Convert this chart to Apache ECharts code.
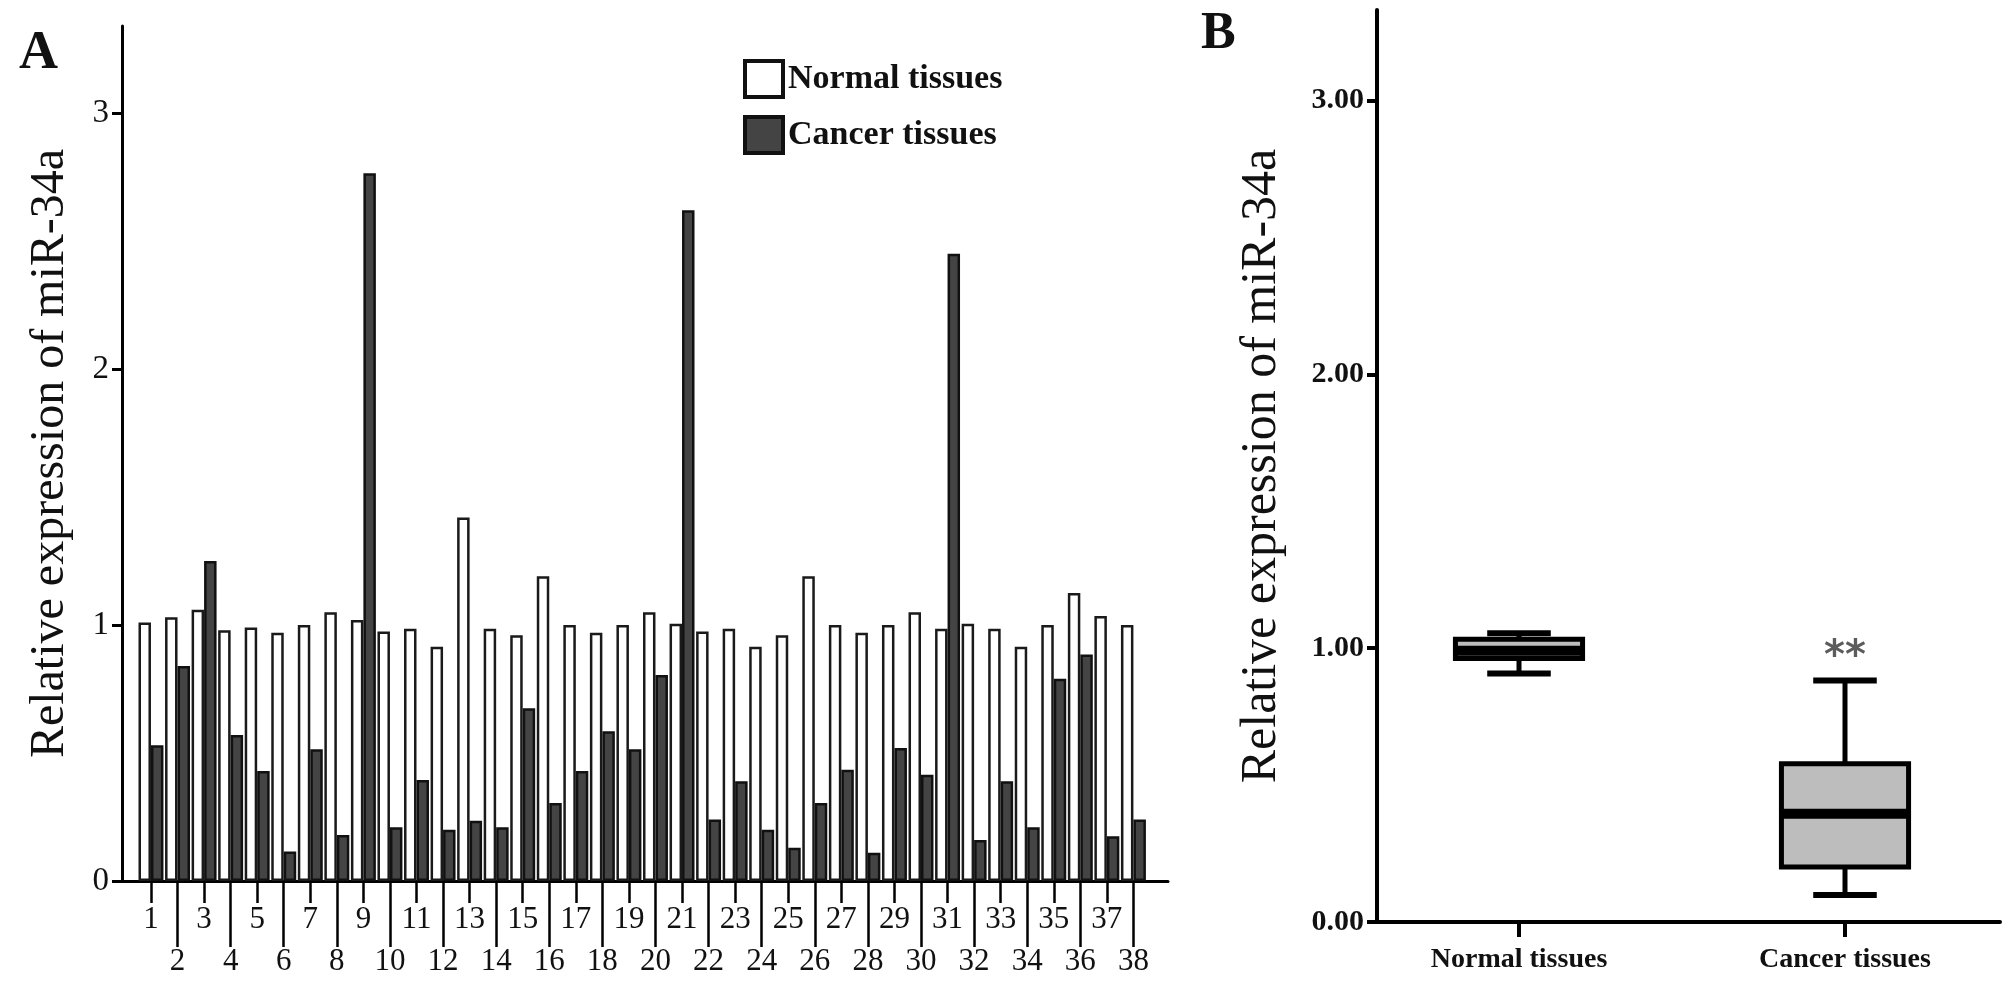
<!DOCTYPE html>
<html>
<head>
<meta charset="utf-8">
<script src="https://cdn.jsdelivr.net/npm/echarts@6/dist/echarts.min.js"></script>
<style>
html,body{margin:0;padding:0;background:#fff;}
#chart{width:2008px;height:991px;}
</style>
</head>
<body>
<div id="chart"></div>
<script>
// ---------- data ----------
const categoriesA = ['1','2','3','4','5','6','7','8','9','10','11','12','13','14','15','16','17','18','19','20',
  '21','22','23','24','25','26','27','28','29','30','31','32','33','34','35','36','37','38'];
const normalValues = [1.01,1.03,1.06,0.98,0.99,0.97,1.00,1.05,1.02,0.975,0.985,0.915,1.42,0.985,0.96,1.19,1.00,0.97,1.00,1.05,
  1.005,0.975,0.985,0.915,0.96,1.19,1.00,0.97,1.00,1.05,0.985,1.005,0.985,0.915,1.00,1.125,1.035,1.00];
const cancerValues = [0.53,0.84,1.25,0.57,0.43,0.115,0.515,0.18,2.765,0.21,0.395,0.20,0.235,0.21,0.675,0.305,0.43,0.585,0.515,0.805,
  2.62,0.24,0.39,0.20,0.13,0.305,0.435,0.11,0.52,0.415,2.45,0.16,0.39,0.21,0.79,0.885,0.175,0.24];
const yTicksA = [0,1,2,3];
const seriesNames = ['Normal tissues','Cancer tissues'];

const groupsB = ['Normal tissues','Cancer tissues'];
// [min, Q1, median, Q3, max]
const normalBox = [0.907,0.962,0.99,1.032,1.054];
const cancerBox = [0.099,0.201,0.395,0.578,0.882];
const yTicksB = [0,1,2,3];
const significance = [['Cancer tissues',0.965,'**']];

const yTitle = 'Relative expression of miR-34a';
// ---------------------------

const SERIF = "'Liberation Serif','Times New Roman','DejaVu Serif',serif";
const chart = echarts.init(document.getElementById('chart'), null, {renderer:'canvas'});

function renderBox(params, api){
  const i = api.value(0);
  const pMin = api.coord([i, api.value(1)]);
  const pQ1 = api.coord([i, api.value(2)]);
  const pMed = api.coord([i, api.value(3)]);
  const pQ3 = api.coord([i, api.value(4)]);
  const pMax = api.coord([i, api.value(5)]);
  const band = api.size([1,0])[0];
  const bw = band*0.39, cw = bw*0.5, cx = pMed[0];
  const ls = {stroke:'#000', lineWidth:5};
  return {type:'group', children:[
    {type:'line', shape:{x1:cx,y1:pQ3[1],x2:cx,y2:pMax[1]}, style:ls},
    {type:'line', shape:{x1:cx,y1:pQ1[1],x2:cx,y2:pMin[1]}, style:ls},
    {type:'line', shape:{x1:cx-cw/2,y1:pMax[1],x2:cx+cw/2,y2:pMax[1]}, style:{stroke:'#000',lineWidth:6}},
    {type:'line', shape:{x1:cx-cw/2,y1:pMin[1],x2:cx+cw/2,y2:pMin[1]}, style:{stroke:'#000',lineWidth:6}},
    {type:'rect', shape:{x:cx-bw/2,y:pQ3[1],width:bw,height:pQ1[1]-pQ3[1]}, style:{fill:'#bdbdbd',stroke:'#000',lineWidth:5}},
    {type:'line', shape:{x1:cx-bw/2,y1:pMed[1],x2:cx+bw/2,y2:pMed[1]}, style:{stroke:'#000',lineWidth:10}}
  ]};
}

const option = {
  animation:false,
  backgroundColor:'#fff',
  title:[
    {text:'A', left:14, top:22, textStyle:{fontFamily:SERIF, fontWeight:'bold', fontSize:54, color:'#111'}},
    {text:'B', left:1196, top:4, textStyle:{fontFamily:SERIF, fontWeight:'bold', fontSize:52, color:'#111'}}
  ],
  legend:{
    data:seriesNames, orient:'vertical', left:738, top:54,
    itemWidth:38, itemHeight:36, itemGap:16, icon:'rect',
    textStyle:{fontFamily:SERIF, fontWeight:'bold', fontSize:34, color:'#111', padding:[0,0,0,0]},
    itemStyle:{borderColor:'#111', borderWidth:4}
  },
  grid:[
    {left:122, top:26, width:1046, height:855},
    {left:137.7, top:26, width:1009, height:855},
    {left:1377, top:10, width:623, height:912},
    {left:1356, top:10, width:656, height:912}
  ],
  xAxis:[
    {gridIndex:0, type:'value', min:0, max:1, axisLine:{show:true, lineStyle:{color:'#000', width:3}},
      axisTick:{show:false}, axisLabel:{show:false}, splitLine:{show:false}},
    {gridIndex:1, type:'category', data:categoriesA, position:'bottom', axisLine:{show:false},
      axisTick:{show:true, alignWithLabel:true, interval:(i)=>i%2===0, length:22, lineStyle:{color:'#000', width:2.5}},
      axisLabel:{interval:(i)=>i%2===0, margin:23, fontFamily:SERIF, fontSize:31, color:'#111'}},
    {gridIndex:1, type:'category', data:categoriesA, position:'bottom', offset:0, axisLine:{show:false},
      axisTick:{show:true, alignWithLabel:true, interval:(i)=>i%2===1, length:66, lineStyle:{color:'#000', width:2.5}},
      axisLabel:{interval:(i)=>i%2===1, margin:65, fontFamily:SERIF, fontSize:31, color:'#111'}},
    {gridIndex:2, type:'value', min:0, max:1, axisLine:{show:true, lineStyle:{color:'#000', width:4}},
      axisTick:{show:false}, axisLabel:{show:false}, splitLine:{show:false}},
    {gridIndex:3, type:'category', data:groupsB, position:'bottom', axisLine:{show:false},
      axisTick:{show:true, alignWithLabel:true, length:15, lineStyle:{color:'#000', width:4}},
      axisLabel:{margin:24, fontFamily:SERIF, fontWeight:'bold', fontSize:28, color:'#111'}}
  ],
  yAxis:[
    {gridIndex:0, type:'value', min:0, max:3.34,
      axisLine:{show:true, lineStyle:{color:'#000', width:3}},
      axisTick:{show:true, customValues:yTicksA, length:10, lineStyle:{color:'#000', width:3}},
      axisLabel:{customValues:yTicksA, margin:13, fontFamily:SERIF, fontSize:33, color:'#111'},
      splitLine:{show:false},
      name:yTitle, nameLocation:'middle', nameRotate:90, nameGap:48,
      nameTextStyle:{fontFamily:SERIF, fontSize:48, color:'#111'}},
    {gridIndex:1, type:'value', min:0, max:3.34, show:false, splitLine:{show:false}},
    {gridIndex:2, type:'value', min:0, max:3.33,
      axisLine:{show:true, lineStyle:{color:'#000', width:4}},
      axisTick:{show:true, customValues:yTicksB, length:10, lineStyle:{color:'#000', width:4}},
      axisLabel:{customValues:yTicksB, margin:13, fontFamily:SERIF, fontWeight:'bold', fontSize:30, color:'#111',
        formatter:(v)=>v.toFixed(2)},
      splitLine:{show:false},
      name:yTitle, nameLocation:'middle', nameRotate:90, nameGap:90,
      nameTextStyle:{fontFamily:SERIF, fontSize:50, color:'#111'}},
    {gridIndex:3, type:'value', min:0, max:3.33, show:false, splitLine:{show:false}}
  ],
  series:[
    {name:seriesNames[0], type:'bar', xAxisIndex:1, yAxisIndex:1, data:normalValues,
      barGap:'0%', barCategoryGap:'6%',
      itemStyle:{color:'#ffffff', borderColor:'#1a1a1a', borderWidth:2.5}},
    {name:seriesNames[1], type:'bar', xAxisIndex:1, yAxisIndex:1, data:cancerValues,
      barGap:'0%', barCategoryGap:'6%',
      itemStyle:{color:'#444444', borderColor:'#111', borderWidth:2.5}},
    {name:'box', type:'custom', xAxisIndex:4, yAxisIndex:3, renderItem:renderBox,
      encode:{x:0, y:[1,2,3,4,5]},
      data:[[0].concat(normalBox), [1].concat(cancerBox)]},
    {name:'sig', type:'scatter', xAxisIndex:4, yAxisIndex:3, symbolSize:0,
      data:significance.map(d=>({value:[d[0], d[1]], label:{formatter:d[2]}})),
      label:{show:true, position:'inside', fontFamily:"'DejaVu Sans',sans-serif", fontWeight:'bold', fontSize:40, color:'#333'}}
  ]
};
chart.setOption(option);
</script>
</body>
</html>
